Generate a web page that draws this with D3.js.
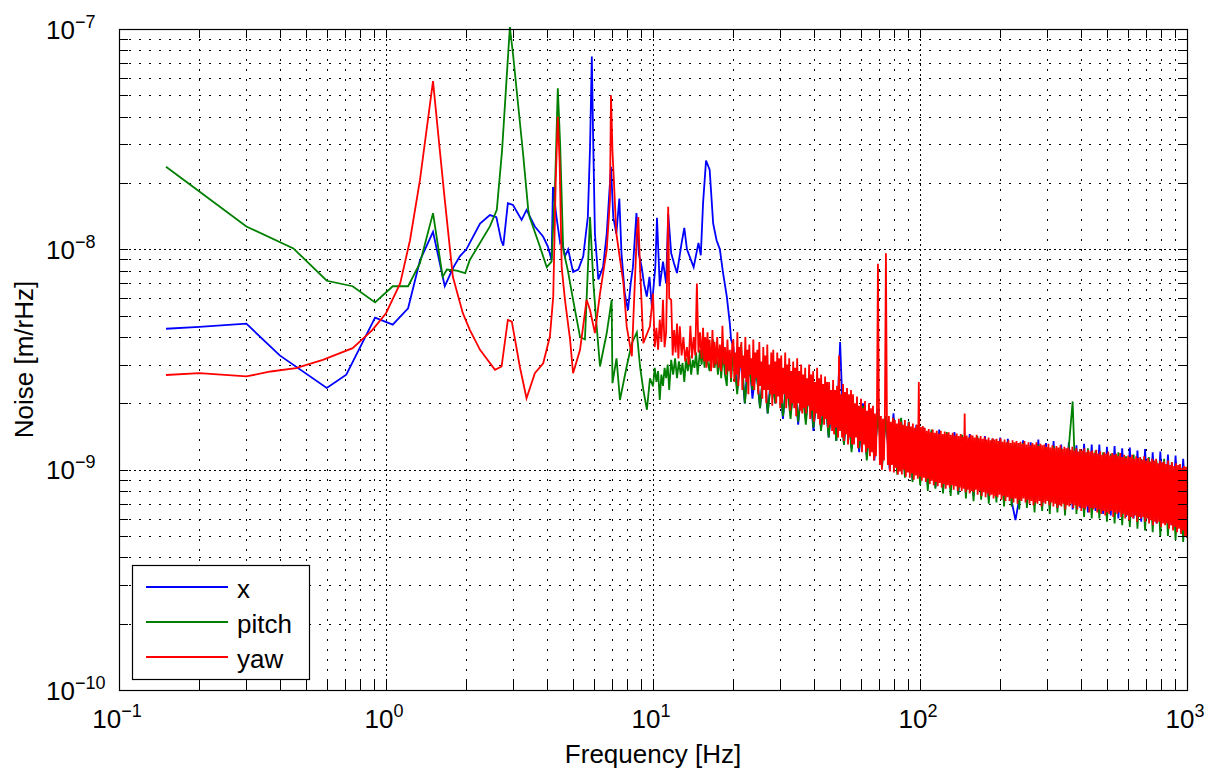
<!DOCTYPE html>
<html>
<head>
<meta charset="utf-8">
<script src="https://cdn.jsdelivr.net/npm/d3@7"></script>
<style>
  body { margin: 0; background: #fff; }
  text { font-family: "Liberation Sans", Arial, sans-serif; fill: #000; }
</style>
</head>
<body>
<script>
// series as in the legend
var seriesNames = ['x', 'pitch', 'yaw'];
var seriesColors = ['#0000ff', '#008000', '#ff0000'];

// tick exponents
var xTickExp = [-1, 0, 1, 2, 3];
var yTickExp = [-10, -9, -8, -7];

// values are in nm/rHz (times 1e-9 gives m/rHz)
var NM = 1e-9;

// low frequency part, [Hz, nm/rHz]
var xLow = [[0.15,4.36],[0.2,4.45],[0.3,4.6],[0.4,3.3],[0.6,2.35],[0.71,2.7],[0.91,4.9],[1.06,4.55],[1.21,5.4],[1.34,8.9],
  [1.5,12.0],[1.66,6.8],[1.79,8.3],[1.89,9.3],[2.0,10.0],[2.25,13.1],[2.45,14.3],[2.59,14.0],[2.7,11.0],[2.75,10.4],
  [2.86,16.2],[2.99,15.9],[3.22,13.6],[3.36,15.1],[3.61,12.7],[3.88,11.4],[4.04,10.3],[4.17,8.95],[4.22,19.2],[4.35,14.0],
  [4.49,10.7],[4.56,11.0],[4.68,9.3],[4.81,10.0],[5.02,7.9],[5.25,8.1],[5.48,9.3],[5.7,14.0],[5.81,29],[5.9,75],
  [5.96,35],[6.06,11.8],[6.24,7.3],[6.5,8.3],[6.71,11.8],[6.96,23.7],[7.1,14],[7.29,11.8],[7.48,17.0],[7.62,9.6],
  [7.84,6.3],[8.06,5.3],[8.25,7.0],[8.41,8.3],[8.67,14.6],[8.85,9.5],[9.07,8.3],[9.25,7.0],[9.48,6.1],[9.7,7.5],
  [9.9,5.5],[10.2,8.3],[10.35,13.9],[10.6,6.8],[10.9,8.8],[11.2,7.0],[11.4,14.5],[11.7,9.6],[12.0,8.6],[12.3,7.8],
  [12.8,10.7],[13.1,12.5],[13.4,10.0],[13.8,9.1],[14.2,8.3],[14.8,10.7],[15.1,9.4],[15.4,16.2],[15.8,25.3],[16.3,23.0],
  [16.8,13.1],[17.3,11.0],[17.8,10.0],[18.3,7.8],[18.9,6.1],[19.4,4.6],[19.6,3.9]];

var pitchLow = [[0.15,23.7],[0.2,18.3],[0.3,12.7],[0.45,10.1],[0.6,7.2],[0.75,6.8],[0.91,5.74],[1.06,6.8],[1.21,6.8],[1.34,8.65],
  [1.5,14.6],[1.63,7.5],[1.69,8.1],[1.84,8.0],[1.98,7.8],[2.06,8.95],[2.45,12.7],[2.6,15.1],[2.72,28],[2.91,102],
  [2.99,77],[3.26,27.3],[3.41,15.1],[3.45,14.0],[3.77,10.3],[4.0,8.3],[4.17,8.8],[4.3,20],[4.4,53.8],[4.49,30],
  [4.61,10.0],[4.8,8.0],[5.02,5.9],[5.33,4.0],[5.56,3.9],[5.81,14.0],[5.98,7.0],[6.15,4.5],[6.33,2.94],[6.71,4.17],
  [7.0,5.9],[7.05,2.47],[7.3,3.2],[7.52,2.07],[7.97,2.94],[8.33,3.75],[8.7,4.2],[8.94,2.94],[9.2,2.3],[9.49,1.87],
  [9.74,2.6],[10.0,2.39],[10.15,2.9],[10.3,2.5],[10.45,2.8],[10.6,2.07],[10.75,2.7],[10.9,2.4],[11.05,2.9],[11.2,2.6],
  [11.35,3.0],[11.5,2.3],[11.7,3.15],[11.9,2.7],[12.1,3.2],[12.3,2.6],[12.5,3.1],[12.7,2.7],[12.9,3.05],[13.1,2.5],
  [13.3,3.2],[13.5,2.8],[13.7,3.3],[13.9,2.7],[14.1,3.15],[14.3,2.9],[14.5,3.4],[14.7,2.7],[15.0,3.5],[15.2,3.0],
  [15.4,3.5],[15.6,2.9],[15.8,3.6],[16.0,3.1],[16.3,2.8],[16.5,3.5],[16.8,3.9],[17.0,2.9],[17.3,3.27],[17.5,2.7],
  [17.8,3.3],[18.0,2.6],[18.3,3.4],[18.6,2.7],[18.9,2.4],[19.1,3.3],[19.4,3.2],[19.6,2.5],[19.8,3.0]];

var yawLow = [[0.15,2.69],[0.2,2.74],[0.3,2.65],[0.37,2.79],[0.46,2.89],[0.58,3.15],[0.75,3.56],[0.89,4.31],[1.0,5.13],[1.13,7.0],
  [1.23,11.0],[1.34,20.6],[1.5,58],[1.59,28.3],[1.66,16.8],[1.78,7.5],[1.94,5.13],[2.06,4.31],[2.25,3.5],[2.56,2.84],
  [2.71,2.94],[2.86,4.78],[2.96,4.7],[3.17,2.94],[3.36,2.11],[3.61,2.74],[3.88,3.04],[4.11,4.02],[4.23,6.1],[4.32,20],
  [4.4,40],[4.47,25],[4.55,8.3],[4.68,5.9],[4.89,3.9],[5.02,2.74],[5.33,3.5],[5.64,5.9],[5.81,5.3],[6.06,4.17],
  [6.33,6.3],[6.71,9.96],[6.9,16.8],[6.96,50],[7.05,28],[7.29,11.8],[7.75,7.0],[7.97,4.47],[8.33,3.27],[8.7,11.8],
  [8.81,14.0],[8.94,8.3],[9.2,3.75],[9.74,4.47],[10.0,6.3],[10.15,3.6],[10.3,4.4],[10.45,3.5],[10.6,4.8],[10.75,3.8],
  [10.9,5.9],[11.05,3.6],[11.2,4.2],[11.3,8.0],[11.4,15.6],[11.5,6.0],[11.7,5.9],[11.85,3.3],[12.0,4.3],[12.15,3.4],
  [12.3,4.6],[12.45,3.2],[12.6,4.47],[12.8,3.3],[13.0,4.0],[13.2,3.1],[13.4,3.6],[13.6,3.0],[13.8,4.5],[14.0,3.2],
  [14.2,4.0],[14.4,3.3],[14.6,7.0],[14.8,3.4],[15.0,4.2],[15.2,3.2],[15.4,4.4],[15.55,3.1],[15.7,4.0],[15.85,2.9],
  [16.0,4.2],[16.15,3.1],[16.3,3.9],[16.5,2.8],[16.7,4.3],[16.85,2.9],[17.0,3.8],[17.2,3.0],[17.4,4.0],[17.6,2.9],
  [17.8,3.7],[18.0,2.8],[18.2,4.5],[18.4,3.0],[18.6,3.6],[18.8,2.7],[19.0,3.9],[19.2,2.8],[19.4,3.5],[19.6,2.6],
  [19.8,3.7]];

// noisy part 20 Hz .. 1000 Hz, samples evenly spaced in log f, nm/rHz
var BAND_F0 = 20, BAND_F1 = 1000;
var xBand = [
  3.6,2.3,3.2,2.0,3.5,2.1,2.9,1.9,3.0,1.8,2.8,2.0,2.7,1.7,2.6,1.8,2.5,1.6,2.6,1.7,2.4,1.5,2.3,1.55,
  2.2,1.4,2.1,1.35,3.8,1.3,2.0,1.25,1.9,1.2,2.0,1.15,1.8,1.1,1.9,1.05,1.75,1.0,1.8,0.98,1.7,0.95,1.65,0.9,
  1.6,0.88,1.55,0.85,1.5,0.83,1.52,0.8,1.45,0.82,1.48,0.78,1.42,0.8,1.45,0.76,1.4,0.77,1.42,0.74,1.38,0.75,1.4,0.72,
  1.38,0.72,0.59,0.74,1.36,0.7,1.33,0.71,1.37,0.68,1.32,0.7,1.35,0.67,1.3,0.69,1.33,0.66,1.29,0.67,1.31,0.64,1.3,0.65,
  1.3,0.63,1.27,0.62,1.28,0.6,1.25,0.61,1.26,0.6,1.22,0.58,1.24,0.59,1.2,0.57,1.21,0.58,1.17,0.56,1.16,0.57,1.12,0.55];
var pitchBand = [
  3.4,2.2,3.7,2.0,3.0,2.3,2.8,1.9,3.1,1.8,2.6,2.0,2.9,1.75,2.5,1.7,2.7,1.65,2.4,1.6,2.5,1.55,2.3,1.5,
  2.2,1.4,2.3,1.35,2.0,1.3,2.1,1.2,1.9,1.25,1.95,1.1,1.85,1.15,1.8,1.02,1.75,1.05,1.7,0.95,1.72,0.92,1.65,0.88,
  1.55,0.85,1.5,0.8,1.52,0.82,1.45,0.78,1.48,0.76,1.42,0.77,1.44,0.74,1.4,0.72,1.42,0.73,1.36,0.7,1.38,0.71,1.35,0.68,
  1.33,0.68,1.3,0.66,1.32,0.67,1.28,0.64,1.3,0.65,1.26,0.63,1.28,0.64,1.25,0.62,1.27,2.04,0.63,1.24,0.61,1.25,0.6,1.22,
  0.6,1.2,0.58,1.18,0.57,1.2,0.56,1.15,0.55,1.17,0.54,1.12,0.53,1.14,0.52,1.1,0.5,1.12,0.5,1.08,0.48,1.05,0.47,1.0];
var yawBand = [
  3.9,2.5,3.4,2.7,4.2,2.4,3.6,2.9,3.8,2.3,3.3,2.6,4.0,2.5,3.5,2.2,3.7,2.7,3.2,2.4,3.9,2.3,3.4,2.6,
  3.5,2.2,3.8,2.4,3.1,2.1,3.6,2.3,3.3,2.0,3.7,2.3,3.0,2.2,3.4,1.95,3.5,2.2,3.1,2.0,3.4,2.15,3.2,1.9,
  3.3,2.0,2.9,2.2,3.4,1.9,3.0,2.1,3.2,1.85,2.8,2.0,3.1,1.9,2.9,1.75,3.2,2.0,2.8,1.85,3.0,1.8,2.7,1.9,
  2.9,1.8,2.6,1.95,3.0,1.7,2.7,1.85,2.8,1.65,2.5,1.8,2.9,1.7,2.6,1.6,2.7,1.75,2.45,1.6,2.65,1.7,2.5,1.55,
  2.5,1.6,2.3,1.5,2.55,1.45,2.3,1.55,2.4,1.4,3.3,1.5,2.2,1.4,2.45,1.35,2.25,1.45,2.35,1.3,2.2,1.4,2.3,1.3,
  2.2,1.3,2.0,1.4,2.15,1.25,1.95,1.35,2.1,1.2,1.9,1.3,2.05,1.2,1.85,1.25,2.0,1.15,1.9,1.2,1.95,1.1,1.8,1.15,
  1.85,8.6,1.8,1.05,1.75,1.0,1.7,1.1,1.8,9.6,1.7,1.05,1.75,0.98,1.65,1.05,1.72,0.97,1.68,1.02,1.62,0.95,1.7,0.98,
  1.65,0.95,1.6,1.0,1.68,0.93,1.58,0.97,1.64,0.92,1.57,0.96,1.62,0.9,1.55,0.94,1.6,0.91,2.5,0.93,1.56,0.89,1.58,0.92,
  1.55,0.88,1.5,0.91,1.53,0.86,1.48,0.89,1.52,0.85,1.47,0.88,1.5,0.84,1.46,0.87,1.5,0.83,1.45,0.86,1.49,0.82,1.46,0.85,
  1.48,0.83,1.44,0.85,1.47,0.81,1.43,0.84,1.46,0.8,1.42,0.83,1.45,0.8,1.41,0.82,1.8,0.79,1.43,0.81,1.4,0.78,1.44,0.8,
  1.43,0.79,1.4,0.81,1.44,0.77,1.39,0.8,1.42,0.76,1.38,0.79,1.41,0.75,1.37,0.78,1.4,0.76,1.36,0.77,1.39,0.74,1.37,0.76,
  1.38,0.75,1.35,0.77,1.39,0.73,1.34,0.76,1.37,0.72,1.33,0.75,1.36,0.72,1.32,0.74,1.36,0.71,1.33,0.74,1.35,0.7,1.32,0.73,
  1.34,0.72,1.31,0.74,1.35,0.71,1.3,0.73,1.33,0.7,1.29,0.72,1.32,0.69,1.3,0.71,1.33,0.7,1.28,0.72,1.31,0.68,1.29,0.71,
  1.3,0.7,1.27,0.72,1.31,0.69,1.26,0.71,1.29,0.68,1.25,0.7,1.28,0.67,1.26,0.69,1.29,0.68,1.24,0.7,1.27,0.66,1.25,0.69,
  1.26,0.68,1.23,0.7,1.27,0.67,1.22,0.69,1.25,0.66,1.21,0.68,1.24,0.65,1.22,0.67,1.25,0.66,1.2,0.68,1.23,0.64,1.21,0.67,
  1.22,0.66,1.19,0.67,1.23,0.64,1.18,0.66,1.21,0.63,1.17,0.65,1.2,0.62,1.18,0.64,1.21,0.63,1.16,0.65,1.19,0.61,1.17,0.64,
  1.18,0.63,1.15,0.64,1.19,0.61,1.14,0.63,1.17,0.6,1.13,0.62,1.16,0.59,1.14,0.61,1.17,0.6,1.12,0.62,1.15,0.58,1.13,0.61,
  1.14,0.6,1.11,0.61,1.15,0.58,1.1,0.6,1.13,0.57,1.09,0.59,1.12,0.56,1.1,0.58,1.12,0.57,1.07,0.58,1.1,0.55,1.08,0.57,
  1.09,0.56,1.06,0.57,1.1,0.54,1.05,0.56,1.08,0.53,1.04,0.55,1.07,0.52,1.05,0.54,1.06,0.51,1.02,0.53,1.04,0.5,1.03,0.49];

var WIDTH = 1215, HEIGHT = 773;
var L = 119, R = 1187, T = 29, B = 690;
var TICK = 9;

var svg = d3.select('body').append('svg').attr('width', WIDTH).attr('height', HEIGHT);
var x = d3.scaleLog().domain([0.1, 1000]).range([L, R]);
var y = d3.scaleLog().domain([1e-10, 1e-7]).range([B, T]);

// attach frequencies to the band samples
function bandPairs(values)
{
  var n = values.length;
  return values.map(function(v, i) {
    return [BAND_F0 * Math.pow(BAND_F1 / BAND_F0, i / (n - 1)), v];
  });
}

var series = [
  xLow.concat(bandPairs(xBand)),
  pitchLow.concat(bandPairs(pitchBand)),
  yawLow.concat(bandPairs(yawBand))
];

// grid positions: 1..9 per decade
var xGrid = [], yGrid = [];
for (var e = xTickExp[0]; e < xTickExp[xTickExp.length - 1]; e++)
  for (var m = 1; m < 10; m++) xGrid.push(m * Math.pow(10, e));
xGrid.push(Math.pow(10, xTickExp[xTickExp.length - 1]));
for (var e2 = yTickExp[0]; e2 < yTickExp[yTickExp.length - 1]; e2++)
  for (var m2 = 1; m2 < 10; m2++) yGrid.push(m2 * Math.pow(10, e2));
yGrid.push(Math.pow(10, yTickExp[yTickExp.length - 1]));

var grid = svg.append('g').attr('stroke', '#000').attr('stroke-width', 1).attr('stroke-dasharray', '2,8');
grid.selectAll('.gx').data(xGrid).enter().append('line')
  .attr('x1', function(d){ return Math.round(x(d)) + 0.5; }).attr('x2', function(d){ return Math.round(x(d)) + 0.5; })
  .attr('y1', T).attr('y2', B);
grid.selectAll('.gy').data(yGrid).enter().append('line')
  .attr('y1', function(d){ return Math.round(y(d)) + 0.5; }).attr('y2', function(d){ return Math.round(y(d)) + 0.5; })
  .attr('x1', L).attr('x2', R);
// decades get a second dotted pass, shifted
var xMajor = xTickExp.map(function(e){ return Math.pow(10, e); });
var yMajor = yTickExp.map(function(e){ return Math.pow(10, e); });
grid.selectAll('.mx').data(xMajor).enter().append('line')
  .attr('stroke-dashoffset', 5)
  .attr('x1', function(d){ return Math.round(x(d)) + 0.5; }).attr('x2', function(d){ return Math.round(x(d)) + 0.5; })
  .attr('y1', T).attr('y2', B);
grid.selectAll('.my').data(yMajor).enter().append('line')
  .attr('stroke-dashoffset', 5)
  .attr('y1', function(d){ return Math.round(y(d)) + 0.5; }).attr('y2', function(d){ return Math.round(y(d)) + 0.5; })
  .attr('x1', L).attr('x2', R);

// series lines
svg.append('clipPath').attr('id', 'plotclip').append('rect')
  .attr('x', L).attr('y', T - 2).attr('width', R - L).attr('height', B - T + 2);
var line = d3.line()
  .x(function(d){ return x(d[0]); })
  .y(function(d){ return y(d[1] * NM); });
svg.append('g').attr('clip-path', 'url(#plotclip)')
  .selectAll('path').data(series).enter().append('path')
  .attr('d', line)
  .attr('fill', 'none')
  .attr('stroke', function(d, i){ return seriesColors[i]; })
  .attr('stroke-width', 1.8)
  .attr('stroke-linejoin', 'miter');

// ticks inside on all four sides
var ticks = svg.append('g').attr('stroke', '#000').attr('stroke-width', 1);
xGrid.forEach(function(d) {
  var px = Math.round(x(d)) + 0.5;
  ticks.append('line').attr('x1', px).attr('x2', px).attr('y1', B).attr('y2', B - TICK);
  ticks.append('line').attr('x1', px).attr('x2', px).attr('y1', T).attr('y2', T + TICK);
});
yGrid.forEach(function(d) {
  var py = Math.round(y(d)) + 0.5;
  ticks.append('line').attr('y1', py).attr('y2', py).attr('x1', L).attr('x2', L + TICK);
  ticks.append('line').attr('y1', py).attr('y2', py).attr('x1', R).attr('x2', R - TICK);
});

// frame
svg.append('rect').attr('x', L + 0.5).attr('y', T + 0.5).attr('width', R - L).attr('height', B - T)
  .attr('fill', 'none').attr('stroke', '#000').attr('stroke-width', 1.2);

// tick labels
function expText(e) { return (e < 0 ? '\u2212' : '') + Math.abs(e); }
xTickExp.forEach(function(e) {
  var t = svg.append('text').attr('x', x(Math.pow(10, e)) - 2).attr('y', 728)
    .attr('text-anchor', 'middle').style('font-size', '26px');
  t.append('tspan').text('10');
  t.append('tspan').attr('dy', -11).style('font-size', '18px').text(expText(e));
});
yTickExp.forEach(function(e) {
  var t = svg.append('text').attr('x', 46).attr('y', y(Math.pow(10, e)) + 9.5)
    .attr('text-anchor', 'start').style('font-size', '26px');
  t.append('tspan').text('10');
  t.append('tspan').attr('dy', -11).style('font-size', '18px').text(expText(e));
});

// axis labels
svg.append('text').attr('x', (L + R) / 2).attr('y', 763).attr('text-anchor', 'middle')
  .style('font-size', '26px').text('Frequency [Hz]');
svg.append('text').attr('transform', 'translate(33,' + ((T + B) / 2) + ') rotate(-90)')
  .attr('text-anchor', 'middle').style('font-size', '26px').text('Noise [m/rHz]');

// legend
var lg = svg.append('g');
lg.append('rect').attr('x', 132.5).attr('y', 565.5).attr('width', 177).attr('height', 114)
  .attr('fill', '#fff').attr('stroke', '#000').attr('stroke-width', 1.2);
var rowY = [587, 622, 657];
seriesNames.forEach(function(name, i) {
  lg.append('line').attr('x1', 146).attr('x2', 228).attr('y1', rowY[i]).attr('y2', rowY[i])
    .attr('stroke', seriesColors[i]).attr('stroke-width', 1.8);
  lg.append('text').attr('x', 237).attr('y', rowY[i] + 11).style('font-size', '26px').text(name);
});
</script>
</body>
</html>
